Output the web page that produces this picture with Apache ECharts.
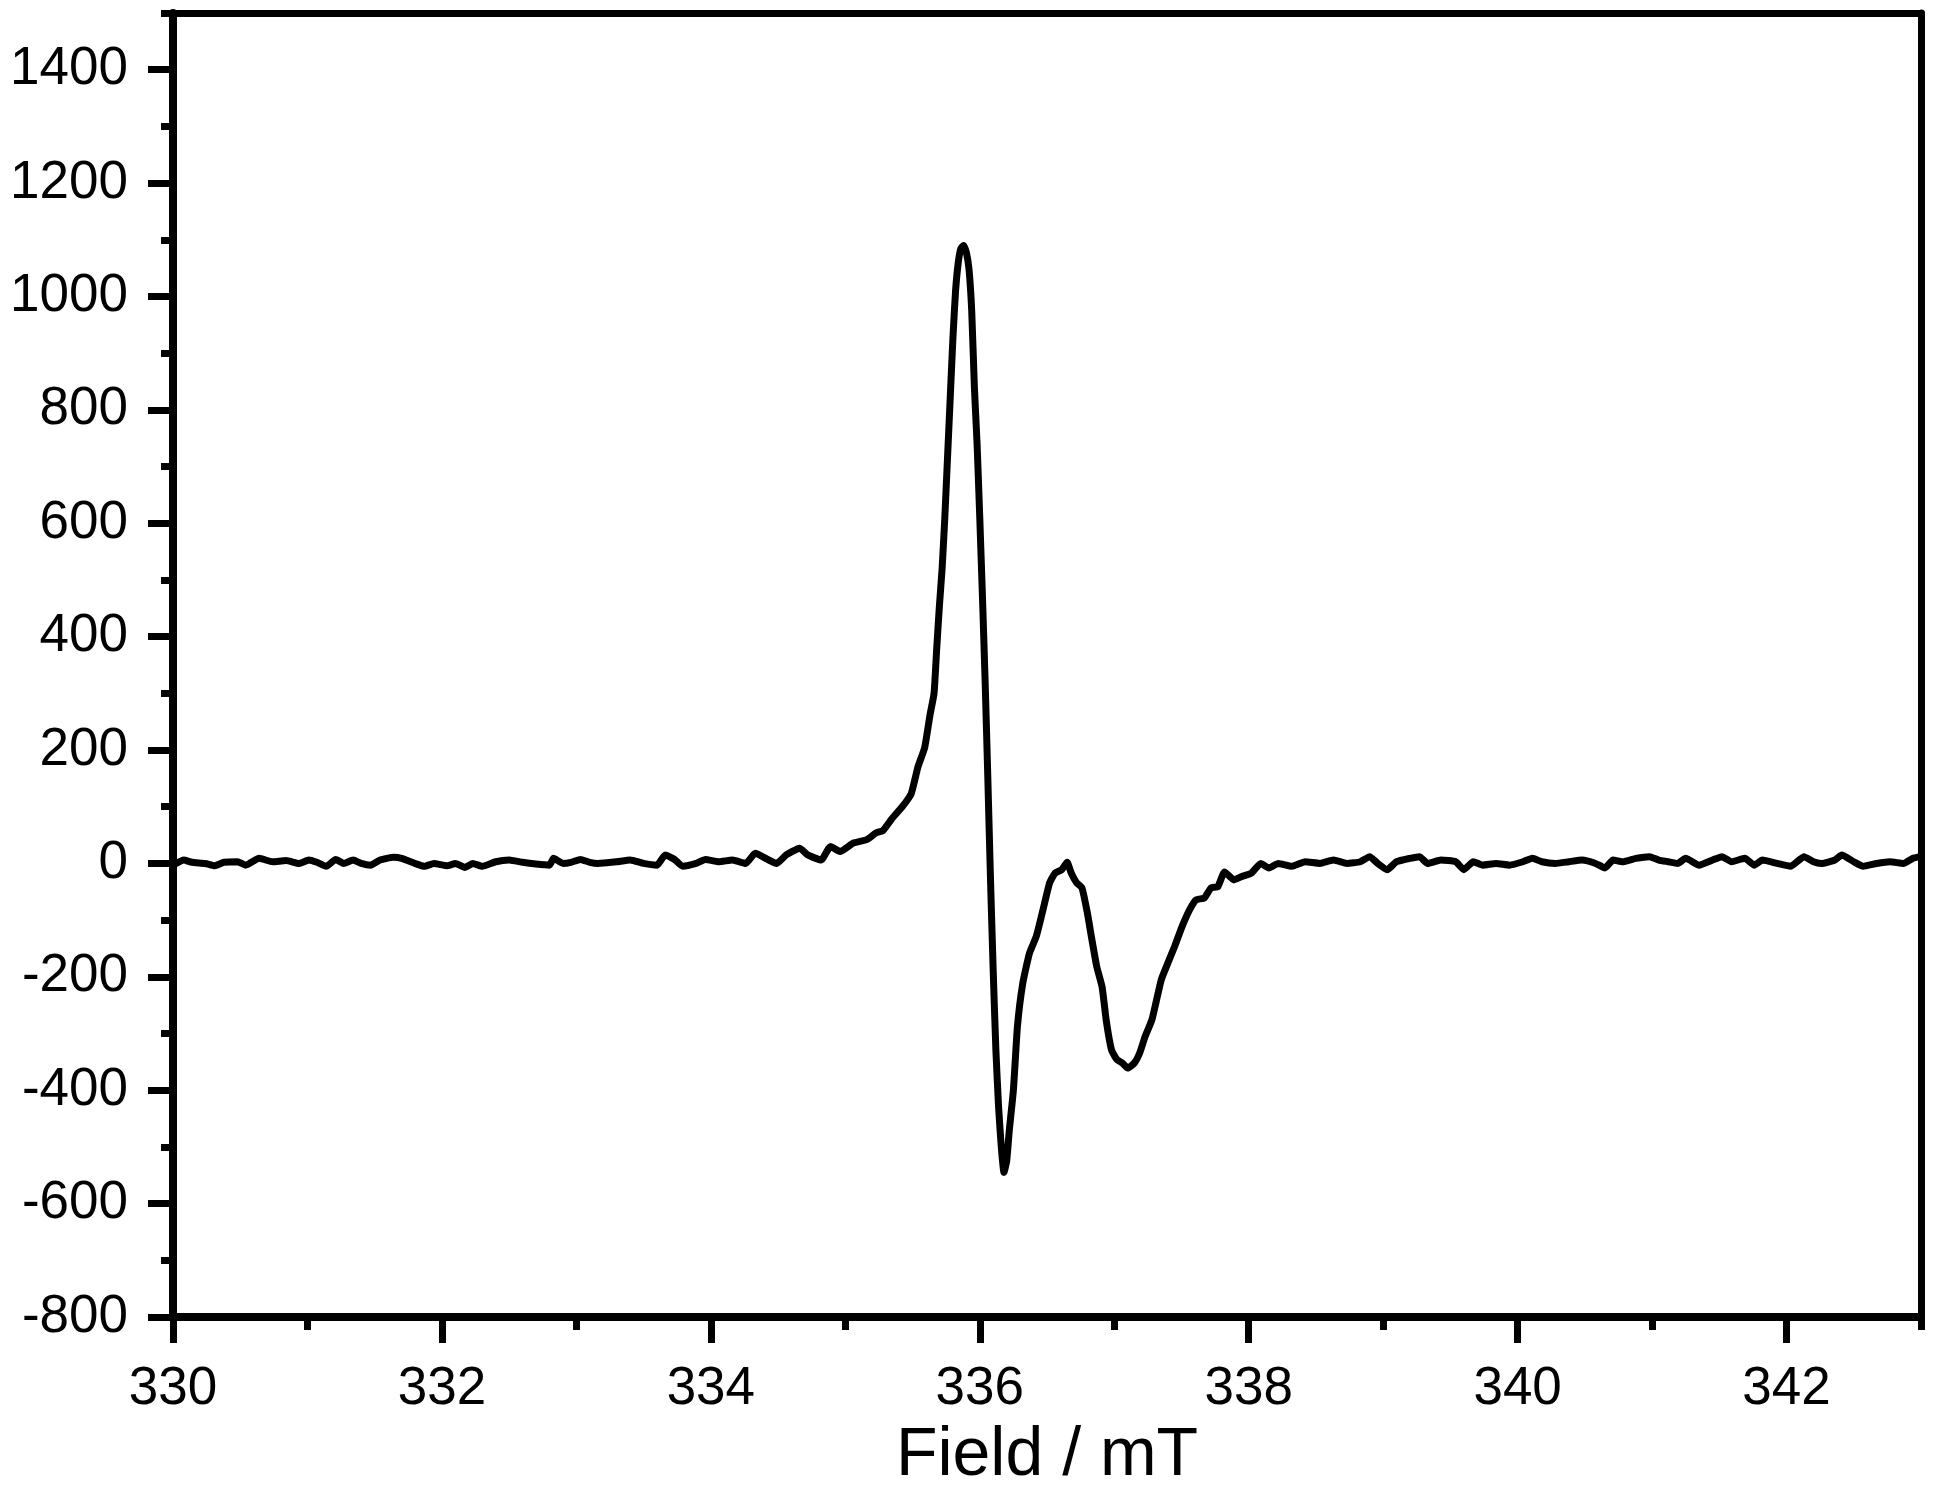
<!DOCTYPE html>
<html>
<head>
<meta charset="utf-8">
<style>
html,body{margin:0;padding:0;background:#fff;}
#chart{width:1939px;height:1494px;}
</style>
<script src="https://cdn.jsdelivr.net/npm/echarts@6/dist/echarts.min.js"></script>
</head>
<body>
<div id="chart"></div>
<script>
// ---- Data ----
const leftField = [330.01,330.08,330.14,330.24,330.31,330.38,330.48,330.54,330.64,330.74,330.84,330.94,331.01,331.07,331.14,331.21,331.27,331.34,331.40,331.47,331.54,331.64,331.70,331.80,331.87,331.94,332.04,332.10,332.17,332.23,332.30,332.40,332.50,332.60,332.70,332.80,332.83,332.90,332.96,333.03,333.10,333.16,333.30,333.40,333.50,333.60,333.66,333.73,333.79,333.89,333.96,334.06,334.16,334.26,334.33,334.43,334.49,334.56,334.66,334.72,334.82,334.89,334.96,335.06,335.16];
const leftSignal = [-2,6,2,0,-4,2,3,-3,9,3,5,0,6,2,-5,7,0,6,0,-3,6,11,9,0,-5,0,-4,0,-7,0,-5,3,6,2,-1,-3,9,0,2,7,2,0,3,6,0,-3,15,7,-5,0,7,3,6,0,18,6,0,15,27,15,6,30,21,36,42];

const centerField = [335.23,335.28,335.35,335.43,335.49,335.54,335.59,335.63,335.66,335.68,335.70,335.72,335.74,335.76,335.78,335.80,335.82,335.84,335.86,335.88,335.90,335.92,335.94,335.96,335.98,336.00,336.02,336.04,336.06,336.08,336.10,336.12,336.14,336.16,336.18,336.20,336.22,336.25,336.28,336.32,336.37,336.42,336.47,336.52,336.56,336.61,336.65,336.68,336.72,336.76,336.80,336.83,336.87,336.91,336.94,336.98,337.02,337.06,337.10,337.15,337.19,337.23,337.28,337.31,337.35,337.40,337.45,337.50,337.56,337.61,337.67,337.72,337.77,337.82];
const centerSignal = [54,58,80,102,123,170,204,262,300,380,455,520,610,715,820,925,1010,1060,1085,1090,1078,1048,975,840,740,610,470,320,150,-30,-190,-330,-430,-500,-545,-525,-470,-400,-288,-211,-158,-129,-82,-34,-17,-11,2,-17,-34,-43,-87,-129,-182,-218,-276,-329,-346,-352,-361,-352,-334,-305,-276,-246,-205,-175,-146,-114,-82,-64,-61,-43,-41,-15];

const rightField = [337.89,337.95,338.02,338.09,338.15,338.22,338.32,338.42,338.53,338.63,338.73,338.83,338.90,338.96,339.03,339.10,339.20,339.27,339.33,339.43,339.54,339.60,339.67,339.74,339.84,339.94,340.04,340.11,340.18,340.28,340.38,340.48,340.58,340.65,340.71,340.78,340.88,340.98,341.05,341.12,341.19,341.25,341.35,341.45,341.52,341.59,341.69,341.76,341.82,341.93,342.03,342.13,342.20,342.26,342.36,342.41,342.50,342.57,342.67,342.77,342.87,342.94,342.99];
const rightSignal = [-29,-23,-17,0,-8,0,-5,3,0,6,0,3,12,0,-11,3,9,12,0,6,3,-11,3,-3,0,-3,3,9,3,0,3,6,0,-8,6,3,9,12,6,3,0,9,-3,6,12,3,9,-3,6,0,-5,12,3,0,6,15,3,-5,0,3,0,9,12];

const xMajorTicks = [330,332,334,336,338,340,342];
const yMajorTicks = [-800,-600,-400,-200,0,200,400,600,800,1000,1200,1400];
const xTitle = 'Field / mT';

// ---- Build series data ----
const allField = leftField.concat(centerField, rightField);
const allSignal = leftSignal.concat(centerSignal, rightSignal);
const seriesData = allField.map((f, i) => [f, allSignal[i]]);

const FONT = '"Liberation Sans", Arial, sans-serif';
const BLACK = '#000';

const chart = echarts.init(document.getElementById('chart'), null, {renderer: 'canvas'});
chart.setOption({
  animation: false,
  backgroundColor: '#fff',
  grid: {left: 173, right: 18, top: 13, bottom: 177, containLabel: false, outerBoundsMode: 'none'},
  xAxis: [
    {
      type: 'value', min: 330, max: 343, position: 'bottom',
      axisLine: {show: true, onZero: false, lineStyle: {color: BLACK, width: 8}},
      axisTick: {show: true, length: 26, customValues: xMajorTicks, lineStyle: {color: BLACK, width: 7}},
      axisLabel: {show: true, customValues: xMajorTicks, margin: 46, fontSize: 53, color: BLACK, fontFamily: FONT,
                  formatter: v => String(v)},
      splitLine: {show: false},
      name: xTitle, nameLocation: 'middle', nameGap: 105,
      nameTextStyle: {fontSize: 68, color: BLACK, fontFamily: FONT}
    },
    {
      type: 'value', min: 330, max: 343, interval: 1, position: 'bottom',
      axisLine: {show: false, onZero: false},
      axisTick: {show: true, length: 13, lineStyle: {color: BLACK, width: 7}},
      axisLabel: {show: false}, splitLine: {show: false}
    },
    {
      type: 'value', min: 330, max: 343, position: 'top',
      axisLine: {show: true, onZero: false, lineStyle: {color: BLACK, width: 7}},
      axisTick: {show: false}, axisLabel: {show: false}, splitLine: {show: false}
    }
  ],
  yAxis: [
    {
      type: 'value', min: -800, max: 1500, position: 'left',
      axisLine: {show: true, onZero: false, lineStyle: {color: BLACK, width: 8}},
      axisTick: {show: true, length: 25, customValues: yMajorTicks, lineStyle: {color: BLACK, width: 7}},
      axisLabel: {show: true, customValues: yMajorTicks, margin: 45, fontSize: 53, color: BLACK, fontFamily: FONT,
                  formatter: v => String(v)},
      splitLine: {show: false}
    },
    {
      type: 'value', min: -800, max: 1500, interval: 100, position: 'left',
      axisLine: {show: false, onZero: false},
      axisTick: {show: true, length: 12, lineStyle: {color: BLACK, width: 7}},
      axisLabel: {show: false}, splitLine: {show: false}
    },
    {
      type: 'value', min: -800, max: 1500, position: 'right',
      axisLine: {show: true, onZero: false, lineStyle: {color: BLACK, width: 7}},
      axisTick: {show: false}, axisLabel: {show: false}, splitLine: {show: false}
    }
  ],
  series: [{
    type: 'line',
    xAxisIndex: 0, yAxisIndex: 0,
    data: seriesData,
    showSymbol: false,
    symbol: 'none',
    smooth: 0.15,
    lineStyle: {color: BLACK, width: 7, join: 'round', cap: 'round'},
    clip: true
  }]
});
</script>
</body>
</html>
